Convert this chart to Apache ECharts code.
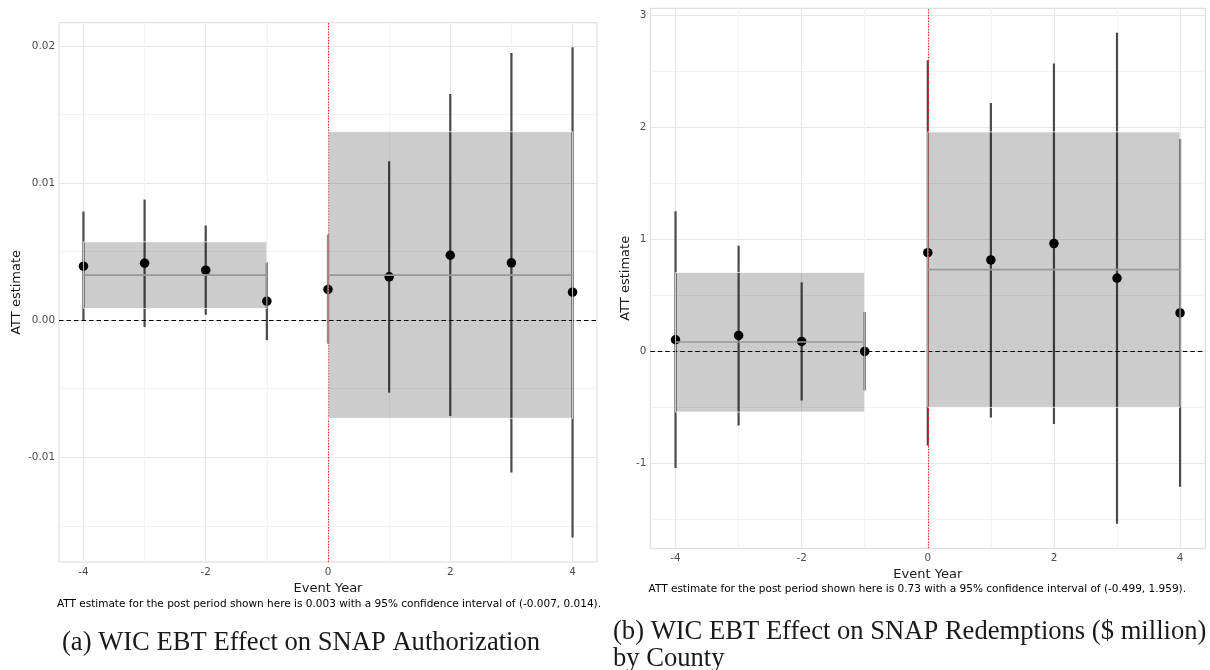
<!DOCTYPE html>
<html>
<head>
<meta charset="utf-8">
<script src="https://cdn.jsdelivr.net/npm/echarts@6/dist/echarts.min.js"></script>
<style>
  html, body { margin: 0; padding: 0; background: #fff; }
  #chart { width: 1210px; height: 670px; }
</style>
</head>
<body>
<div id="chart"></div>
<script>
// ---------- data ----------
const eventYears = [-4, -3, -2, -1, 0, 1, 2, 3, 4];
const xTickLabels = [-4, -2, 0, 2, 4];
const xGridValues = [-4, -3, -2, -1, 0, 1, 2, 3, 4];

// (a) SNAP Authorization
const authEst  = [0.00393, 0.00415, 0.00364, 0.00138, 0.00224, 0.00316, 0.00473, 0.00418, 0.00204];
const authLow  = [-0.00005, -0.00051, 0.00039, -0.00146, -0.00172, -0.00529, -0.00699, -0.01111, -0.01585];
const authHigh = [0.00792, 0.00879, 0.00690, 0.00420, 0.00624, 0.01158, 0.01649, 0.01947, 0.01990];
// [fromYear, toYear, low, high, mean]
const authPreBand  = [-4, -1, 0.00085, 0.00571, 0.00328];
const authPostBand = [0, 4, -0.00716, 0.01374, 0.00328];
const authYTicks = [-0.01, 0.00, 0.01, 0.02];
const authYGrid  = [-0.015, -0.01, -0.005, 0.00, 0.005, 0.01, 0.015, 0.02];

// (b) SNAP Redemptions ($ million)
const redEst  = [0.104, 0.143, 0.089, 0.000, 0.881, 0.816, 0.962, 0.655, 0.343];
const redLow  = [-1.041, -0.661, -0.438, -0.348, -0.839, -0.589, -0.648, -1.538, -1.208];
const redHigh = [1.250, 0.944, 0.616, 0.352, 2.598, 2.218, 2.569, 2.843, 1.896];
const redPreBand  = [-4, -1, -0.541, 0.705, 0.084];
const redPostBand = [0, 4, -0.499, 1.959, 0.730];
const redYTicks = [-1, 0, 1, 2, 3];
const redYGrid  = [-1.5, -1, -0.5, 0, 0.5, 1, 1.5, 2, 2.5, 3];

const captionA = 'ATT estimate for the post period shown here is 0.003 with a 95% confidence interval of (-0.007, 0.014).';
const captionB = 'ATT estimate for the post period shown here is 0.73 with a 95% confidence interval of (-0.499, 1.959).';
const subA = '(a) WIC EBT Effect on SNAP Authorization';
const subB1 = '(b) WIC EBT Effect on SNAP Redemptions ($ million)';
const subB2 = 'by County';

// ---------- helpers ----------
const SANS = 'DejaVu Sans';
const GRID_MAJOR = '#e6e6e6';
const GRID_MINOR = '#f3f3f3';

function expanded(lows, highs) {
  const mn = Math.min(...lows), mx = Math.max(...highs);
  const r = mx - mn;
  return [mn - 0.05 * r, mx + 0.05 * r];
}
const authRange = expanded(authLow, authHigh);
const redRange = expanded(redLow, redHigh);

function xAxisDef(idx) {
  return {
    type: 'value', gridIndex: idx, min: -4.4, max: 4.4,
    name: 'Event Year', nameLocation: 'middle', nameGap: 19,
    nameTextStyle: { fontFamily: SANS, fontSize: 13, color: '#1a1a1a' },
    axisLine: { show: false },
    axisTick: { show: false, customValues: xGridValues },
    axisLabel: {
      fontFamily: SANS, fontSize: 10.4, color: '#4d4d4d', margin: 5,
      customValues: xTickLabels,
      formatter: v => String(Math.round(v))
    },
    splitLine: { show: true, lineStyle: { color: [GRID_MAJOR, GRID_MINOR], width: 1 } }
  };
}

function yAxisDef(idx, range, grid, ticks, fmt, gap) {
  return {
    type: 'value', gridIndex: idx, min: range[0], max: range[1],
    name: 'ATT estimate', nameLocation: 'middle', nameGap: gap, nameRotate: 90,
    nameTextStyle: { fontFamily: SANS, fontSize: 13, color: '#1a1a1a' },
    axisLine: { show: false },
    axisTick: { show: false, customValues: grid },
    axisLabel: {
      fontFamily: SANS, fontSize: 10.4, color: '#4d4d4d', margin: 4,
      customValues: ticks,
      formatter: v => fmt(v)
    },
    splitLine: { show: true, lineStyle: { color: [GRID_MINOR, GRID_MAJOR], width: 1 } }
  };
}

function bandSeries(idx, bands) {
  return {
    type: 'custom', xAxisIndex: idx, yAxisIndex: idx, z: 5, silent: true,
    data: bands.map(b => [b[0], b[1], b[2], b[3]]),
    renderItem: (params, api) => {
      const p0 = api.coord([api.value(0), api.value(3)]);
      const p1 = api.coord([api.value(1), api.value(2)]);
      return {
        type: 'rect',
        shape: { x: p0[0], y: p0[1], width: p1[0] - p0[0], height: p1[1] - p0[1] },
        style: { fill: 'rgba(0,0,0,0.2)', stroke: 'rgba(255,255,255,0.75)', lineWidth: 1 }
      };
    }
  };
}

function meanSeries(idx, bands) {
  return {
    type: 'custom', xAxisIndex: idx, yAxisIndex: idx, z: 6, silent: true,
    data: bands.map(b => [b[0], b[1], b[4]]),
    renderItem: (params, api) => {
      const a = api.coord([api.value(0), api.value(2)]);
      const b = api.coord([api.value(1), api.value(2)]);
      return {
        type: 'line',
        shape: { x1: a[0], y1: a[1], x2: b[0], y2: b[1] },
        style: { stroke: '#999999', lineWidth: 1.6 }
      };
    }
  };
}

function errorSeries(idx, lows, highs) {
  return {
    type: 'custom', xAxisIndex: idx, yAxisIndex: idx, z: 3, silent: true,
    data: eventYears.map((x, i) => [x, lows[i], highs[i]]),
    renderItem: (params, api) => {
      const a = api.coord([api.value(0), api.value(1)]);
      const b = api.coord([api.value(0), api.value(2)]);
      return {
        type: 'line',
        shape: { x1: a[0], y1: a[1], x2: b[0], y2: b[1] },
        style: { stroke: '#4a4a4a', lineWidth: 2.2 }
      };
    }
  };
}

function pointSeries(idx, est) {
  return {
    type: 'scatter', xAxisIndex: idx, yAxisIndex: idx, z: 4, silent: true,
    symbol: 'circle', symbolSize: 9.5,
    itemStyle: { color: '#000000', opacity: 1 },
    data: eventYears.map((x, i) => [x, est[i]])
  };
}

function refLineSeries(idx) {
  return {
    type: 'line', xAxisIndex: idx, yAxisIndex: idx, z: 8, silent: true, data: [],
    markLine: {
      silent: true, symbol: 'none', label: { show: false },
      animation: false,
      data: [
        { yAxis: 0, lineStyle: { color: '#000000', width: 1.1, type: [4.5, 3] } },
        { xAxis: 0, lineStyle: { color: '#ff2020', width: 1.2, type: [1.3, 1.5] } }
      ]
    }
  };
}

const chart = echarts.init(document.getElementById('chart'), null, { renderer: 'canvas' });

chart.setOption({
  animation: false,
  backgroundColor: '#ffffff',
  grid: [
    { left: 59, top: 22.7, width: 538, height: 539.3, show: true, borderColor: '#d9d9d9', borderWidth: 1, backgroundColor: 'transparent', containLabel: false },
    { left: 650.3, top: 8.3, width: 555, height: 540, show: true, borderColor: '#d9d9d9', borderWidth: 1, backgroundColor: 'transparent', containLabel: false }
  ],
  xAxis: [xAxisDef(0), xAxisDef(1)],
  yAxis: [
    yAxisDef(0, authRange, authYGrid, authYTicks, v => v.toFixed(2), 36),
    yAxisDef(1, redRange, redYGrid, redYTicks, v => String(Math.round(v)), 18)
  ],
  series: [
    errorSeries(0, authLow, authHigh),
    pointSeries(0, authEst),
    bandSeries(0, [authPreBand, authPostBand]),
    meanSeries(0, [authPreBand, authPostBand]),
    refLineSeries(0),
    errorSeries(1, redLow, redHigh),
    pointSeries(1, redEst),
    bandSeries(1, [redPreBand, redPostBand]),
    meanSeries(1, [redPreBand, redPostBand]),
    refLineSeries(1)
  ],
  graphic: [
    { type: 'text', x: 601, y: 604, style: { text: captionA, font: '10.5px "DejaVu Sans"', fill: '#000', align: 'right', verticalAlign: 'middle' } },
    { type: 'text', x: 1186, y: 589, style: { text: captionB, font: '10.5px "DejaVu Sans"', fill: '#000', align: 'right', verticalAlign: 'middle' } },
    { type: 'text', x: 62, y: 643, style: { text: subA, font: '26.6px "Liberation Serif"', fill: '#1a1a1a', align: 'left', verticalAlign: 'middle' } },
    { type: 'text', x: 613, y: 632, style: { text: subB1, font: '26.6px "Liberation Serif"', fill: '#1a1a1a', align: 'left', verticalAlign: 'middle' } },
    { type: 'text', x: 613, y: 659, style: { text: subB2, font: '26.6px "Liberation Serif"', fill: '#1a1a1a', align: 'left', verticalAlign: 'middle' } }
  ]
});
</script>
</body>
</html>
